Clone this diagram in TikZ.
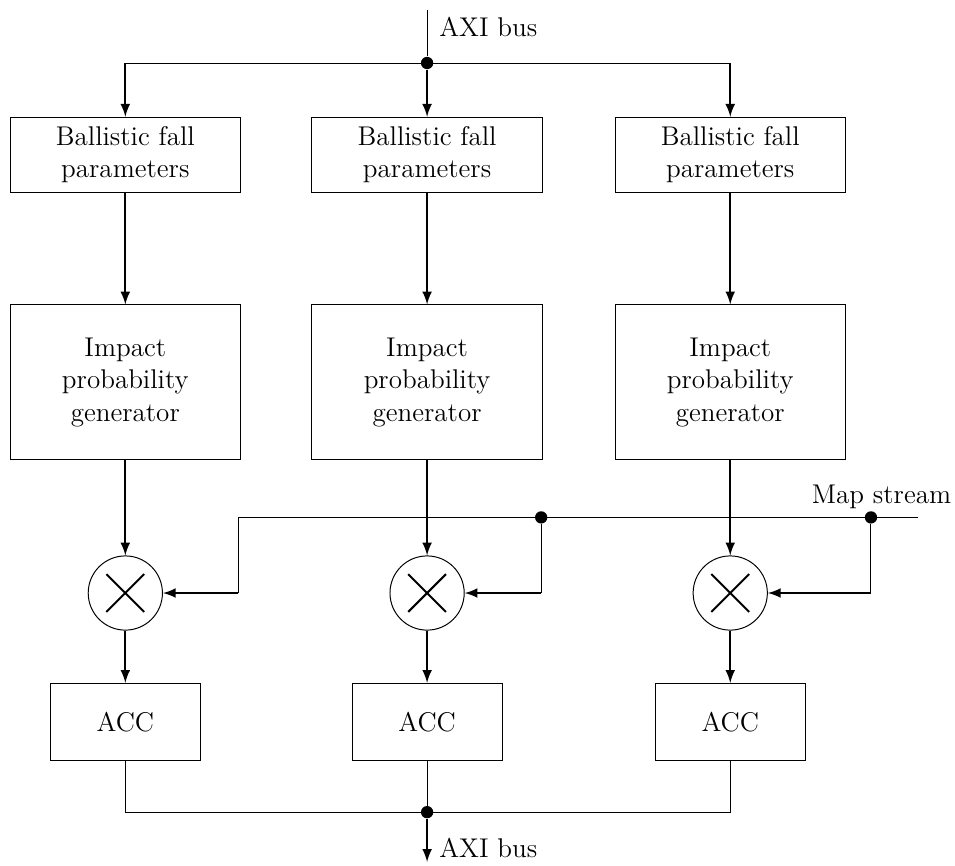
\documentclass[tikz,border=0pt]{standalone}
\usetikzlibrary{arrows}

\begin{document}
\begin{tikzpicture}[
		font=\fontsize{11}{13.2}\selectfont,
		inp/.style = {->, >=latex, thick},
		block/.style = {rectangle, draw, align=center, minimum width=3.29cm},
		acc/.style = {rectangle, draw, minimum width=2.14cm, minimum height=1.1cm},
		mult/.style = {circle, draw, minimum size=1.06cm, path picture={
			\draw[thick] ([shift={(-0.27,-0.27)}]path picture bounding box.center) -- ([shift={(0.27,0.27)}]path picture bounding box.center);
			\draw[thick] ([shift={(-0.27,0.27)}]path picture bounding box.center) -- ([shift={(0.27,-0.27)}]path picture bounding box.center);
		}},
		dot/.style = {circle, fill, inner sep=0pt, minimum size=5pt}
	]
	\useasboundingbox (0,0) rectangle (13.64,-12.36);

	\coordinate (axiIn) at (6.1,-0.14);
	\node (axiInLabel) [anchor=west] at (6.15,-0.39) {AXI bus};
	\node (busTop) [dot] at (6.1,-0.9) {};
	\coordinate (busTopL) at (1.79,-0.9);
	\coordinate (busTopR) at (10.43,-0.9);

	\node (param0) [block, minimum height=1.07cm] at (1.79,-2.21) {Ballistic fall\\parameters};
	\node (param1) [block, minimum height=1.07cm] at (6.1,-2.21) {Ballistic fall\\parameters};
	\node (param2) [block, minimum height=1.07cm] at (10.43,-2.21) {Ballistic fall\\parameters};
	\node (gen0) [block, minimum height=2.21cm] at (1.79,-5.46) {Impact\\probability\\generator};
	\node (gen1) [block, minimum height=2.21cm] at (6.1,-5.46) {Impact\\probability\\generator};
	\node (gen2) [block, minimum height=2.21cm] at (10.43,-5.46) {Impact\\probability\\generator};
	\node (mul0) [mult] at (1.79,-8.47) {};
	\node (mul1) [mult] at (6.1,-8.47) {};
	\node (mul2) [mult] at (10.43,-8.47) {};
	\node (acc0) [acc] at (1.79,-10.31) {ACC};
	\node (acc1) [acc] at (6.1,-10.31) {ACC};
	\node (acc2) [acc] at (10.43,-10.31) {ACC};

	\coordinate (mapIn) at (13.11,-7.39);
	\node (mapLabel) at (12.59,-7.1) {Map stream};
	\node (mapTap2) [dot] at (12.44,-7.39) {};
	\node (mapTap1) [dot] at (7.73,-7.39) {};
	\coordinate (mapEnd) at (3.4,-7.39);
	\coordinate (mulIn0) at (3.4,-8.47);
	\coordinate (mulIn1) at (7.73,-8.47);
	\coordinate (mulIn2) at (12.44,-8.47);

	\node (busBot) [dot] at (6.1,-11.6) {};
	\coordinate (busBotL) at (1.79,-11.6);
	\coordinate (busBotR) at (10.43,-11.6);
	\coordinate (axiOut) at (6.1,-12.31);
	\node (axiOutLabel) [anchor=west] at (6.15,-12.11) {AXI bus};

	\draw (axiIn) -- (busTop);
	\draw (busTopL) -- (busTopR);
	\draw [inp] (busTopL) -- (param0);
	\draw [inp] (busTop) -- (param1);
	\draw [inp] (busTopR) -- (param2);
	\draw [inp] (param0) -- (gen0);
	\draw [inp] (param1) -- (gen1);
	\draw [inp] (param2) -- (gen2);
	\draw [inp] (gen0) -- (mul0);
	\draw [inp] (gen1) -- (mul1);
	\draw [inp] (gen2) -- (mul2);
	\draw [inp] (mul0) -- (acc0);
	\draw [inp] (mul1) -- (acc1);
	\draw [inp] (mul2) -- (acc2);

	\draw (mapIn) -- (mapEnd);
	\draw (mapEnd) -- (mulIn0);
	\draw (mapTap1) -- (mulIn1);
	\draw (mapTap2) -- (mulIn2);
	\draw [inp] (mulIn0) -- (mul0);
	\draw [inp] (mulIn1) -- (mul1);
	\draw [inp] (mulIn2) -- (mul2);

	\draw (acc0) |- (busBotL) -- (busBotR) -| (acc2);
	\draw (acc1) -- (busBot);
	\draw [inp] (busBot) -- (axiOut);
\end{tikzpicture}
\end{document}
